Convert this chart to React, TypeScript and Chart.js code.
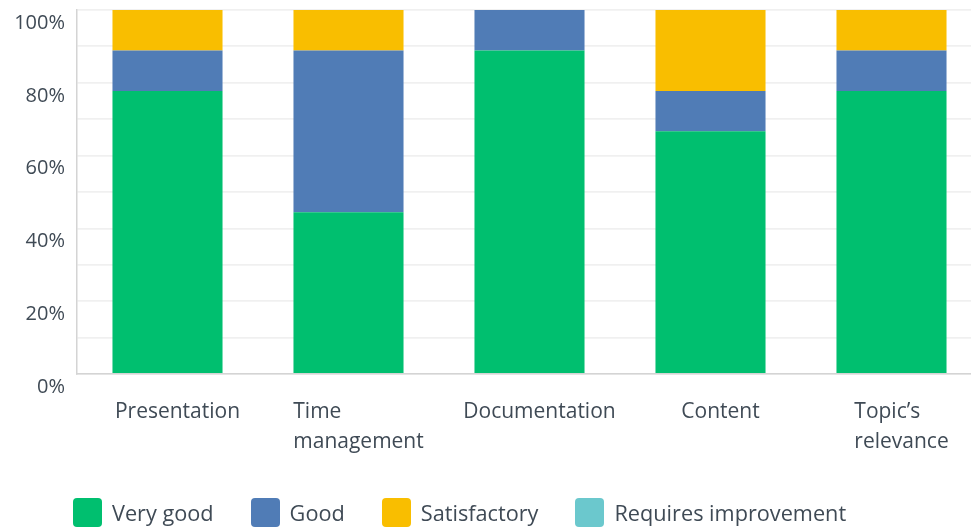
import React, { useEffect, useRef } from "react";
import { Chart, registerables } from "chart.js";

Chart.register(...registerables);

const categories: (string | string[])[] = [
  "Presentation",
  ["Time", "management"],
  "Documentation",
  "Content",
  ["Topic\u2019s", "relevance"],
];
const seriesNames = ["Very good", "Good", "Satisfactory", "Requires improvement"];
const veryGood = [77.78, 44.44, 88.89, 66.67, 77.78];
const good = [11.11, 44.44, 11.11, 11.11, 11.11];
const satisfactory = [11.11, 11.11, 0, 22.22, 11.11];
const requiresImprovement = [0, 0, 0, 0, 0];
const seriesColors = ["#00bf6f", "#507cb6", "#f9be00", "#6bc8cd"];
const yTickValues = [0, 20, 40, 60, 80, 100];

const FONT = '"Open Sans", sans-serif';
const TEXT = "#3f4a55";

const xLabelPlugin = {
  id: "xLabelPlugin",
  afterDraw(chart: any) {
    const ctx = chart.ctx;
    const xs = chart.scales.x;
    ctx.save();
    ctx.font = `21px ${FONT}`;
    ctx.fillStyle = TEXT;
    ctx.textAlign = "left";
    ctx.textBaseline = "alphabetic";
    categories.forEach((lab, i) => {
      const lines = Array.isArray(lab) ? lab : [lab];
      const w = Math.max(...lines.map((l) => ctx.measureText(l).width));
      const cx = xs.getPixelForValue(i) + 10;
      lines.forEach((l, j) => {
        ctx.fillText(l, cx - w / 2, xs.top + 44 + j * 30);
      });
    });
    ctx.restore();
  },
};

export default function App() {
  const ref = useRef<HTMLCanvasElement>(null);
  useEffect(() => {
    if (!ref.current) return;
    const values = [veryGood, good, satisfactory, requiresImprovement];
    const chart = new Chart(ref.current, {
      type: "bar",
      data: {
        labels: categories.map((c) => (Array.isArray(c) ? c.join(" ") : c)),
        datasets: seriesNames.map((n, i) => ({
          label: n,
          data: values[i],
          backgroundColor: seriesColors[i],
          borderWidth: 0,
          categoryPercentage: 1,
          barPercentage: 0.608,
        })),
      },
      options: {
        animation: false,
        responsive: false,
        devicePixelRatio: 1,
        layout: { padding: { top: 10, left: 0, right: 0, bottom: 0 } },
        plugins: { legend: { display: false }, tooltip: { enabled: false } },
        scales: {
          x: {
            stacked: true,
            ticks: { display: false },
            grid: { display: false },
            border: { display: true, color: "#d4d4d4", width: 1.5 },
            afterFit: (s: any) => {
              s.height = 153;
            },
          },
          y: {
            stacked: true,
            min: 0,
            max: 100,
            ticks: {
              stepSize: 10,
              padding: 12,
              labelOffset: 13,
              color: TEXT,
              font: { family: FONT, size: 20 },
              callback: (v: any) => (yTickValues.includes(Number(v)) ? `${v}%` : ""),
            },
            grid: { color: "#f0f0f0", lineWidth: 1.8, drawTicks: false },
            border: { display: true, color: "#d4d4d4", width: 1.5 },
            afterFit: (s: any) => {
              s.width = 77;
              s.paddingTop = 0;
              s.paddingBottom = 0;
            },
          },
        },
      },
      plugins: [xLabelPlugin],
    });
    return () => chart.destroy();
  }, []);

  return (
    <div
      style={{
        position: "absolute",
        left: 0,
        top: 0,
        width: 971,
        height: 527,
        overflow: "hidden",
        background: "#fff",
      }}
    >
      <canvas ref={ref} width={982} height={527} style={{ display: "block" }} />
      <div
        style={{
          position: "absolute",
          left: 73,
          top: 498,
          display: "flex",
          alignItems: "flex-start",
          gap: 37,
          fontFamily: FONT,
          fontSize: 21.7,
          lineHeight: "29px",
          color: TEXT,
          whiteSpace: "nowrap",
        }}
      >
        {seriesNames.map((n, i) => (
          <div key={n} style={{ display: "flex", alignItems: "flex-start" }}>
            <span
              style={{
                display: "inline-block",
                width: 29,
                height: 29,
                borderRadius: 4,
                background: seriesColors[i],
                marginRight: 10,
              }}
            />
            <span>{n}</span>
          </div>
        ))}
      </div>
    </div>
  );
}
